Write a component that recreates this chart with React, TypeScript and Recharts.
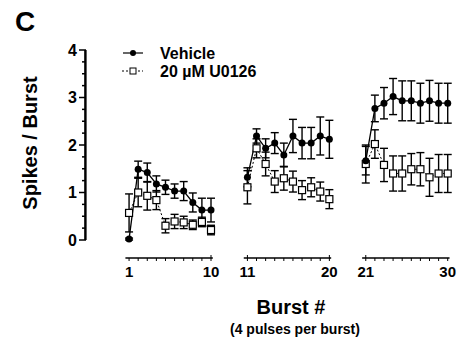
import React from 'react';
import { ComposedChart, Line, XAxis, YAxis, ErrorBar, ReferenceLine, Legend } from 'recharts';

const BURSTS = [
  1, 2, 3, 4, 5, 6, 7, 8, 9, 10,
  11, 12, 13, 14, 15, 16, 17, 18, 19, 20,
  21, 22, 23, 24, 25, 26, 27, 28, 29, 30,
];
const SEGMENTS = [[1, 10], [11, 20], [21, 30]];
// extra room left between the three broken axis blocks
const SEGMENT_SHIFT = [0, 3, 6];
const X_LABELS = [1, 10, 11, 20, 21, 30];
const X_INNER_ENDS = [10, 11, 20, 21];
const Y_TICKS = [0, 1, 2, 3, 4];
const Y_MINOR = [0.25, 0.5, 0.75, 1.25, 1.5, 1.75, 2.25, 2.5, 2.75, 3.25, 3.5, 3.75];

const vehicleMean = [
  0.02, 1.49, 1.42, 1.18, 1.11, 1.03, 1.03, 0.79, 0.63, 0.63,
  1.32, 2.19, 1.93, 2.04, 1.79, 2.19, 2.04, 2.04, 2.19, 2.12,
  1.67, 2.77, 2.88, 3.02, 2.93, 2.93, 2.88, 2.93, 2.88, 2.88,
];
const vehicleSem = [
  0.02, 0.17, 0.2, 0.17, 0.15, 0.15, 0.2, 0.2, 0.25, 0.25,
  0.2, 0.15, 0.2, 0.22, 0.25, 0.35, 0.33, 0.33, 0.4, 0.4,
  0.3, 0.28, 0.33, 0.38, 0.42, 0.42, 0.42, 0.43, 0.42, 0.42,
];
const u0126Mean = [
  0.57, 1.0, 0.93, 0.84, 0.3, 0.39, 0.37, 0.32, 0.38, 0.21,
  1.11, 1.93, 1.6, 1.23, 1.3, 1.23, 1.05, 1.11, 1.02, 0.86,
  1.6, 2.02, 1.58, 1.4, 1.4, 1.49, 1.49, 1.32, 1.4, 1.4,
];
const u0126Sem = [
  0.4, 0.3, 0.3, 0.2, 0.15, 0.15, 0.13, 0.1, 0.1, 0.1,
  0.35, 0.2, 0.25, 0.23, 0.25, 0.22, 0.2, 0.2, 0.2, 0.2,
  0.4, 0.3, 0.35, 0.37, 0.37, 0.33, 0.35, 0.4, 0.4, 0.4,
];

const LEGEND = ['Vehicle', '20 \u00b5M U0126'];

const X_MIN = -3.84;
const X_MAX = 36.8;
const X_AXIS_DROP = 18; // px gap between y=0 and the broken x axis
const X_AXIS_Y = -0.379; // same gap in data units, for the axis segments
const Y_LINE_X = X_MIN + 0.08; // y axis line nudged just inside the plot box

const pos = (b: number) => b + SEGMENT_SHIFT[Math.floor((b - 1) / 10)];
const burstAt = (v: number) => BURSTS.find((n) => Math.abs(pos(n) - v) < 1e-6);

function segmentData(mean: number[], sem: number[], seg: number[]) {
  return BURSTS.filter((b) => b >= seg[0] && b <= seg[1]).map((b) => ({
    x: pos(b),
    y: mean[b - 1],
    err: sem[b - 1],
  }));
}

const SquareDot = (props: any) => {
  const { cx, cy, index } = props;
  if (cx == null || cy == null) return <g key={index} />;
  return (
    <rect key={index} x={cx - 3.5} y={cy - 3.5} width={7} height={7} fill="#fff" stroke="#000" strokeWidth={1.2} />
  );
};

const YTick = (props: any) => {
  const { x, y, payload } = props;
  const major = Y_TICKS.includes(payload.value);
  return (
    <g>
      <line x1={x - (major ? 6 : 3)} x2={x + 1} y1={y} y2={y} stroke="#000" strokeWidth={1.5} />
      {major && (
        <text x={x - 8} y={y} dy="0.36em" textAnchor="end" fontSize={16} fontWeight="bold" fill="#000">
          {payload.value}
        </text>
      )}
    </g>
  );
};

const XTick = (props: any) => {
  const { x, y, payload } = props;
  const b = burstAt(payload.value);
  const ay = y + X_AXIS_DROP;
  const up = b != null && X_INNER_ENDS.includes(b) ? 3 : 0;
  return (
    <g>
      <line x1={x} x2={x} y1={ay - up} y2={ay + 3} stroke="#000" strokeWidth={1} />
      {b != null && X_LABELS.includes(b) && (
        <text x={x} y={ay + 19} textAnchor="middle" fontSize={15} fontWeight="bold" fill="#000">
          {b}
        </text>
      )}
    </g>
  );
};

const renderLegend = () => (
  <svg width={200} height={40} style={{ overflow: 'visible' }}>
    <line x1={5} x2={25} y1={10} y2={10} stroke="#000" strokeWidth={1.2} />
    <circle cx={15} cy={10} r={3} fill="#000" />
    <text x={42} y={16} fontSize={16} fontWeight="bold" fill="#000">{LEGEND[0]}</text>
    <line x1={4} x2={25} y1={28} y2={28} stroke="#000" strokeWidth={1} strokeDasharray="2 2" />
    <rect x={12} y={25} width={6} height={6} fill="#fff" stroke="#000" strokeWidth={1} />
    <text x={42} y={34} fontSize={16} fontWeight="bold" fill="#000">{LEGEND[1]}</text>
  </svg>
);

const renderYLabel = () => (
  <text transform="translate(37,143) rotate(-90)" textAnchor="middle" fontSize={20} fontWeight="bold" fill="#000">
    Spikes / Burst
  </text>
);

const renderXLabel = () => (
  <g>
    <text x={291} y={314} textAnchor="middle" fontSize={20} fontWeight="bold" fill="#000">Burst #</text>
    <text x={295} y={334} textAnchor="middle" fontSize={14} fontWeight="bold" fill="#000">(4 pulses per burst)</text>
  </g>
);

export default function App() {
  return (
    <div
      style={{
        position: 'absolute',
        left: 0,
        top: 0,
        width: 463,
        height: 348,
        background: '#fff',
        fontFamily: '"Liberation Sans", Arial, sans-serif',
      }}
    >
      <div style={{ position: 'absolute', left: 15, top: 8, fontSize: 28, lineHeight: '28px', fontWeight: 'bold' }}>C</div>
      <ComposedChart width={463} height={348} margin={{ top: 50, right: 8, bottom: 60, left: 40 }}>
        <XAxis
          type="number"
          dataKey="x"
          domain={[X_MIN, X_MAX]}
          ticks={BURSTS.map(pos)}
          interval={0}
          axisLine={false}
          tickLine={false}
          tickSize={0}
          tickMargin={0}
          tick={XTick}
          height={48}
          label={renderXLabel}
        />
        <YAxis
          type="number"
          domain={[0, 4]}
          ticks={[...Y_TICKS, ...Y_MINOR].sort((a, b) => a - b)}
          interval={0}
          axisLine={{ stroke: '#000', strokeWidth: 1.6 }}
          tickLine={false}
          tickSize={0}
          tickMargin={0}
          tick={YTick}
          width={45}
          label={renderYLabel}
        />
        <ReferenceLine
          segment={[{ x: Y_LINE_X, y: 0 }, { x: Y_LINE_X, y: 4 }]}
          stroke="#000"
          strokeWidth={1.8}
          ifOverflow="visible"
        />
        {SEGMENTS.map((seg, i) => (
          <ReferenceLine
            key={`axis-${i}`}
            segment={[{ x: pos(seg[0]) - 0.4, y: X_AXIS_Y }, { x: pos(seg[1]) + 0.2, y: X_AXIS_Y }]}
            stroke="#000"
            strokeWidth={1.3}
            ifOverflow="visible"
          />
        ))}
        {SEGMENTS.map((seg, i) => (
          <Line
            key={`u-${i}`}
            data={segmentData(u0126Mean, u0126Sem, seg)}
            dataKey="y"
            stroke="#000"
            strokeWidth={1}
            strokeDasharray="2 2"
            dot={SquareDot}
            activeDot={false}
            isAnimationActive={false}
            legendType="none"
          >
            <ErrorBar dataKey="err" width={4} stroke="#000" strokeWidth={1.4} direction="y" />
          </Line>
        ))}
        {SEGMENTS.map((seg, i) => (
          <Line
            key={`v-${i}`}
            data={segmentData(vehicleMean, vehicleSem, seg)}
            dataKey="y"
            stroke="#000"
            strokeWidth={1.3}
            dot={{ r: 3.5, fill: '#000', stroke: '#000', strokeWidth: 0 }}
            activeDot={false}
            isAnimationActive={false}
            legendType="none"
          >
            <ErrorBar dataKey="err" width={4} stroke="#000" strokeWidth={1.4} direction="y" />
          </Line>
        ))}
        <Legend
          layout="vertical"
          align="center"
          verticalAlign="middle"
          content={renderLegend}
          wrapperStyle={{ position: 'absolute', left: 118, top: 43, width: 200, height: 40 }}
        />
      </ComposedChart>
    </div>
  );
}
